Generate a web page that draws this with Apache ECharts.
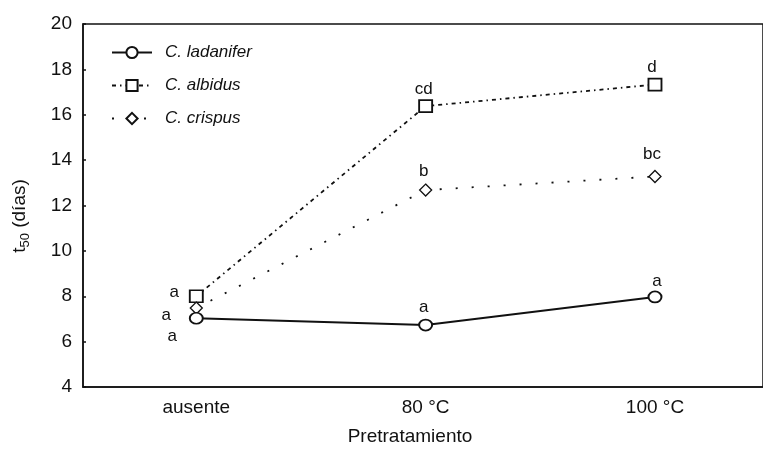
<!DOCTYPE html>
<html>
<head>
<meta charset="utf-8">
<script src="https://cdn.jsdelivr.net/npm/echarts@6/dist/echarts.min.js"></script>
<style>html,body{margin:0;padding:0;background:#fff}#c{width:763px;height:451px}</style>
</head>
<body>
<div id="c"></div>
<script>
// ---- data ----
var categories = ['ausente', '80 °C', '100 °C'];
var seriesNames = ['C. ladanifer', 'C. albidus', 'C. crispus'];
var ladanifer = [7.03, 6.73, 7.97];
var albidus = [8.0, 16.38, 17.33];
var crispus = [7.48, 12.68, 13.28];
var lettersLadanifer = ['a', 'a', 'a'];
var lettersAlbidus = ['a', 'cd', 'd'];
var lettersCrispus = ['a', 'b', 'bc'];
var yTicks = [4, 6, 8, 10, 12, 14, 16, 18, 20];

// ---- styling (positions of letter labels relative to points) ----
var offLad = [[-24, 18], [-2, -18], [2, -16]];
var offAlb = [[-22, -4], [-2, -17], [-3, -17]];
var offCri = [[-30, 7], [-2, -19], [-3, -22]];

var FONT = 'Liberation Sans, Arial, sans-serif';
var INK = '#111';

function build(vals, letters, offs) {
  return vals.map(function (v, i) {
    return {
      value: [i, v],
      label: {
        show: true, position: 'inside', offset: offs[i],
        formatter: letters[i], color: INK, fontSize: 17, fontFamily: FONT
      }
    };
  });
}

var chart = echarts.init(document.getElementById('c'), null, {renderer: 'canvas'});
chart.setOption({
  animation: false,
  backgroundColor: '#fff',
  grid: {left: 83, top: 24, right: -2, bottom: 54, show: true, borderColor: INK, borderWidth: 1.5, containLabel: false},
  legend: {
    left: 106, top: 39, orient: 'vertical', itemWidth: 40, itemHeight: 14, itemGap: 16,
    data: seriesNames,
    textStyle: {fontFamily: FONT, fontSize: 17, fontStyle: 'italic', color: INK, padding: [0, 0, 0, 8]}
  },
  xAxis: {
    type: 'value', min: -0.494, max: 2.471,
    axisLine: {onZero: false, lineStyle: {color: INK, width: 1.5}},
    axisTick: {show: false},
    splitLine: {show: false},
    axisLabel: {
      customValues: [0, 1, 2], margin: 11, color: INK, fontSize: 19, fontFamily: FONT,
      formatter: function (v) { return categories[Math.round(v)]; }
    },
    name: 'Pretratamiento', nameLocation: 'middle', nameGap: 40,
    nameTextStyle: {color: INK, fontSize: 19, fontFamily: FONT, padding: [0, 26, 0, 0]}
  },
  yAxis: {
    type: 'value', min: yTicks[0], max: yTicks[yTicks.length - 1], interval: 2,
    axisLine: {show: true, onZero: false, lineStyle: {color: INK, width: 1.5}},
    axisTick: {show: true, inside: true, length: 3, lineStyle: {color: INK, width: 1.5}},
    splitLine: {show: false},
    axisLabel: {margin: 11, color: INK, fontSize: 19, fontFamily: FONT}
  },
  graphic: [{
    type: 'text', x: 20, y: 216, rotation: Math.PI / 2,
    style: {
      text: '{m|t}{s|50}{m| (días)}', align: 'center', verticalAlign: 'middle',
      fill: INK, font: '19px ' + FONT,
      rich: {
        m: {fontSize: 19, fontFamily: FONT, lineHeight: 24, verticalAlign: 'middle', fill: INK},
        s: {fontSize: 13, fontFamily: FONT, lineHeight: 13, verticalAlign: 'bottom', fill: INK}
      }
    }
  }],
  series: [
    {
      name: seriesNames[0], type: 'line', data: build(ladanifer, lettersLadanifer, offLad),
      symbol: 'circle', symbolSize: [13, 11], showAllSymbol: true, z: 3,
      itemStyle: {color: '#fff', borderColor: INK, borderWidth: 1.8},
      lineStyle: {color: INK, width: 2, type: 'solid'}
    },
    {
      name: seriesNames[1], type: 'line', data: build(albidus, lettersAlbidus, offAlb),
      symbol: 'rect', symbolSize: [13, 12], z: 2,
      itemStyle: {color: '#fff', borderColor: INK, borderWidth: 1.8},
      lineStyle: {color: INK, width: 1.8, type: [4, 4, 1.5, 4]}
    },
    {
      name: seriesNames[2], type: 'line', data: build(crispus, lettersCrispus, offCri),
      symbol: 'diamond', symbolSize: [12, 12], z: 2,
      itemStyle: {color: '#fff', borderColor: INK, borderWidth: 1.3},
      lineStyle: {color: INK, width: 1.8, type: [2, 14]}
    }
  ]
});
</script>
</body>
</html>
